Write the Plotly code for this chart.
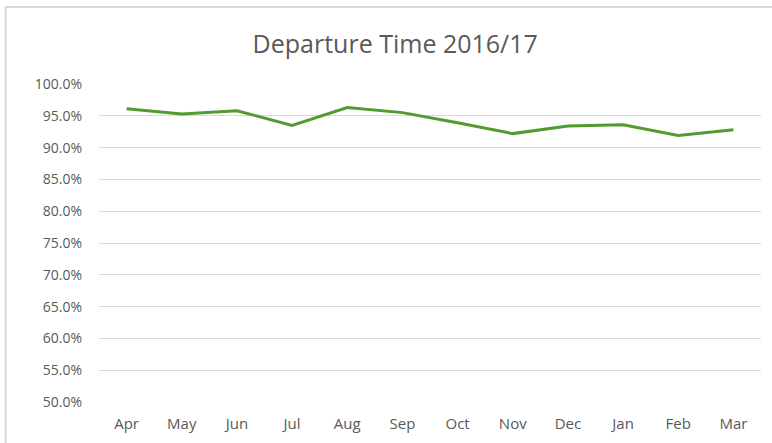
import plotly.graph_objects as go

months = ["Apr", "May", "Jun", "Jul", "Aug", "Sep", "Oct", "Nov", "Dec", "Jan", "Feb", "Mar"]
departure_pct = [96.1, 95.3, 95.8, 93.5, 96.3, 95.5, 93.9, 92.2, 93.4, 93.6, 91.9, 92.8]
y_ticks = [50, 55, 60, 65, 70, 75, 80, 85, 90, 95, 100]
y_tick_labels = [f"{v:.1f}%" for v in y_ticks]

fig = go.Figure()
fig.add_trace(go.Scatter(
    x=months, y=departure_pct, mode="lines",
    line=dict(color="#519b2f", width=3),
    hoverinfo="x+y",
))

fig.update_layout(
    width=772, height=443,
    margin=dict(l=99, r=11, t=84, b=41),
    paper_bgcolor="white", plot_bgcolor="white",
    showlegend=False,
    font=dict(family="Open Sans, sans-serif", color="#595959"),
    title=dict(text="Departure Time 2016/17", x=0.512, xanchor="center",
               y=0.9, yanchor="middle", automargin=False,
               font=dict(size=25, color="#595959", family="Open Sans, sans-serif")),
    xaxis=dict(type="category", range=[-0.5, len(months) - 0.5],
               showgrid=False, showline=False, zeroline=False, automargin=False,
               ticks="", tickfont=dict(size=15, color="#595959"), ticklabelstandoff=11),
    yaxis=dict(range=[50, 100], tickvals=y_ticks, ticktext=y_tick_labels,
               showgrid=True, gridcolor="#d9d9d9", gridwidth=1, zeroline=False,
               automargin=False,
               showline=False, ticks="", tickfont=dict(size=14, color="#595959"),
               ticklabelstandoff=16),
    shapes=[dict(type="rect", xref="paper", yref="paper",
                 x0=-0.141, x1=1.1, y0=-0.2, y1=1.242,
                 line=dict(color="#d9d9d9", width=2), fillcolor="rgba(0,0,0,0)",
                 layer="below")],
)

fig.write_html("out.html", config={"displayModeBar": False},
               post_script="document.body.style.margin='0';document.body.style.overflow='hidden';")
